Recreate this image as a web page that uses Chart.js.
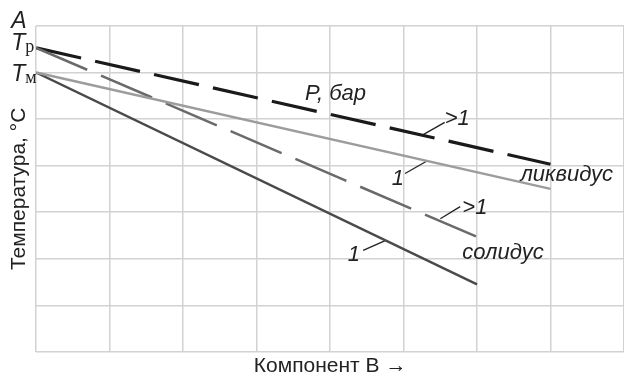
<!DOCTYPE html>
<html>
<head>
<meta charset="utf-8">
<script src="https://cdn.jsdelivr.net/npm/chart.js@4.4.1/dist/chart.umd.min.js"></script>
<style>
  body { margin: 0; background: #fff; }
  #wrap { width: 624px; height: 379px; }
</style>
</head>
<body>
<div id="wrap"><canvas id="myChart"></canvas></div>
<script>
// Datos de la gráfica (ejes: componente B 0..8, temperatura 0..7)
const liqX = [0, 7];            // extremos de las líneas de líquidus
const solX = [0, 6];            // extremos de las líneas de sólidus
const liquidusP = [6.53, 4.03]; // P > 1 бар
const liquidus1 = [6.0, 3.5];   // P = 1 бар
const solidusP = [6.53, 2.47];
const solidus1 = [6.0, 1.45];

// Líneas guía de las etiquetas (x0, y0, x1, y1)
const leaderX0 = [5.25, 5.02, 5.50, 4.45];
const leaderY0 = [4.65, 3.83, 2.86, 2.18];
const leaderX1 = [5.56, 5.33, 5.77, 4.75];
const leaderY1 = [4.93, 4.11, 3.12, 2.39];

// Textos dentro del gráfico
const noteText = ['P, бар', '>1', '1', '>1', '1', 'ликвидус', 'солидус'];
const noteX = [3.66, 5.56, 4.84, 5.80, 4.24, 6.59, 5.80];
const noteY = [5.41, 4.87, 3.58, 2.97, 1.96, 3.68, 2.00];

// Etiquetas del eje Y (lado izquierdo)
const leftMain = ['A', 'T', 'T'];
const leftSub = ['', 'р', 'м'];
const leftY = [6.95, 6.48, 5.82];

const xTitle = 'Компонент В →';
const yTitle = 'Температура, °С';

function pts(xs, ys) {
  return xs.map((x, i) => ({ x: x, y: ys[i] }));
}

function lineSet(data, color, width, dash) {
  return {
    data: data,
    borderColor: color,
    borderWidth: width,
    borderDash: dash || [],
    pointRadius: 0,
    fill: false,
    tension: 0
  };
}

const datasets = [
  lineSet(pts(liqX, liquidus1), '#9c9c9c', 2.5),
  lineSet(pts(solX, solidus1), '#4a4a4a', 2.5),
  lineSet(pts(solX, solidusP), '#6a6a6a', 2.5, [55.5, 15]),
  lineSet(pts(liqX, liquidusP), '#1a1a1a', 3.2, [46, 14.4])
];

leaderX0.forEach((x0, i) => {
  datasets.push(lineSet(pts([x0, leaderX1[i]], [leaderY0[i], leaderY1[i]]), '#222', 1.3));
});

// Plugin para dibujar los textos
const notesPlugin = {
  id: 'notes',
  afterDatasetsDraw(chart) {
    const ctx = chart.ctx;
    const xs = chart.scales.x;
    const ys = chart.scales.y;
    ctx.save();
    ctx.fillStyle = '#222';
    ctx.textBaseline = 'alphabetic';
    ctx.textAlign = 'left';
    ctx.font = 'italic 22px "Liberation Sans", Arial, sans-serif';
    noteText.forEach((t, i) => {
      ctx.fillText(t, xs.getPixelForValue(noteX[i]), ys.getPixelForValue(noteY[i]));
    });

    const left = chart.chartArea.left - 25;
    leftMain.forEach((t, i) => {
      const y = ys.getPixelForValue(leftY[i]);
      ctx.font = 'italic 23px "Liberation Sans", Arial, sans-serif';
      ctx.fillText(t, left, y);
      if (leftSub[i]) {
        ctx.font = '18px "Liberation Serif", "DejaVu Serif", serif';
        ctx.fillText(leftSub[i], left + 14, y + 2);
      }
    });
    ctx.restore();
  }
};

const ctx = document.getElementById('myChart').getContext('2d');
const chart = new Chart(ctx, {
  type: 'line',
  data: { datasets: datasets },
  options: {
    responsive: true,
    maintainAspectRatio: false,
    animation: false,
    layout: { padding: { left: 3, top: 26, right: 0, bottom: 0 } },
    plugins: { legend: { display: false }, tooltip: { enabled: false } },
    scales: {
      x: {
        type: 'linear',
        min: 0,
        max: 8,
        ticks: { display: false, stepSize: 1 },
        grid: { color: '#d2d2d2', lineWidth: 1.5, drawTicks: false },
        border: { display: false },
        title: {
          display: true,
          text: xTitle,
          color: '#222',
          font: { family: '"Liberation Sans", Arial, sans-serif', size: 21 },
          padding: { top: 2, bottom: 0 }
        }
      },
      y: {
        type: 'linear',
        min: 0,
        max: 7,
        ticks: { display: false, stepSize: 1 },
        grid: { color: '#d2d2d2', lineWidth: 1.5, drawTicks: false },
        border: { display: false },
        title: {
          display: true,
          text: yTitle,
          color: '#222',
          font: { family: '"Liberation Sans", Arial, sans-serif', size: 21 },
          padding: { top: 4, bottom: 4 }
        }
      }
    }
  },
  plugins: [notesPlugin]
});
</script>
</body>
</html>
